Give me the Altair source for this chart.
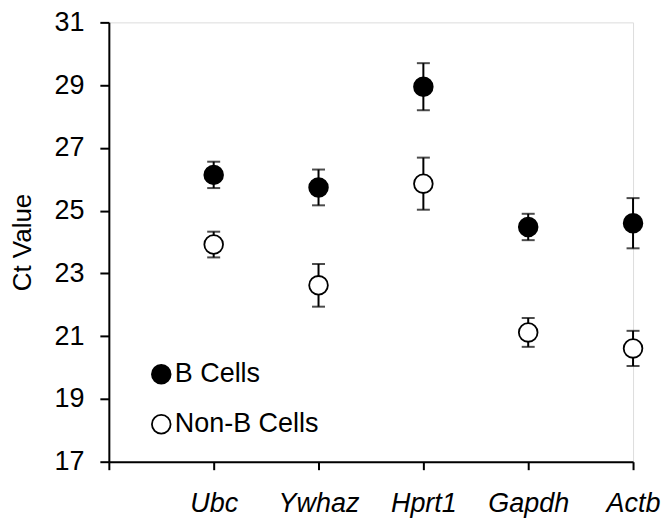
import altair as alt
import pandas as pd

genes = ["Ubc", "Ywhaz", "Hprt1", "Gapdh", "Actb"]
groups = ["B Cells", "Non-B Cells"]
b_values = [26.14, 25.74, 28.95, 24.48, 24.60]
b_errors = [0.42, 0.57, 0.75, 0.42, 0.80]
nonb_values = [23.92, 22.62, 25.86, 21.12, 20.61]
nonb_errors = [0.41, 0.68, 0.83, 0.46, 0.56]
y_ticks = [17, 19, 21, 23, 25, 27, 29, 31]

rows = []
for i, g in enumerate(genes):
    rows.append({"gene": g, "pos": i + 1, "group": groups[0], "value": b_values[i], "err": b_errors[i]})
    rows.append({"gene": g, "pos": i + 1, "group": groups[1], "value": nonb_values[i], "err": nonb_errors[i]})
df = pd.DataFrame(rows)
df["lo"] = df["value"] - df["err"]
df["hi"] = df["value"] + df["err"]

label_array = "[" + ",".join(["''"] + ["'" + g + "'" for g in genes]) + "]"
FONT = "Liberation Sans"

x_enc = alt.X(
    "pos:Q",
    scale=alt.Scale(domain=[0, len(genes)], nice=False, zero=False),
    axis=alt.Axis(
        values=list(range(len(genes) + 1)),
        labelExpr=label_array + "[datum.value]",
        title=None,
        grid=False,
        labelFontStyle="italic",
        labelFontSize=27,
        labelFont=FONT,
        labelColor="black",
        labelPadding=21,
        tickSize=8,
        tickColor="black",
        tickWidth=2,
        domainColor="black",
        domainWidth=2,
        labelFlush=False,
        labelOverlap=False,
    ),
)
y_scale = alt.Scale(domain=[17, 31], nice=False, zero=False)

base = alt.Chart(df)

rule = base.mark_rule(color="black", strokeWidth=2).encode(
    x=x_enc,
    y=alt.Y(
        "lo:Q",
        scale=y_scale,
        axis=alt.Axis(
            values=y_ticks,
            title="Ct Value",
            titleFont=FONT,
            titleFontSize=26,
            titleFontWeight="normal",
            titleColor="black",
            titlePadding=18,
            grid=False,
            labelFontSize=27,
            labelFont=FONT,
            labelColor="black",
            labelPadding=16,
            tickSize=9,
            tickColor="black",
            tickWidth=2,
            domainColor="black",
            domainWidth=2,
        ),
    ),
    y2="hi:Q",
)
cap_lo = base.mark_tick(color="black", thickness=2, size=13, orient="horizontal").encode(
    x="pos:Q", y=alt.Y("lo:Q", scale=y_scale)
)
cap_hi = base.mark_tick(color="black", thickness=2, size=13, orient="horizontal").encode(
    x="pos:Q", y=alt.Y("hi:Q", scale=y_scale)
)
points = base.mark_point(filled=True, size=350, stroke="black", strokeWidth=1.8, opacity=1, shape="circle").encode(
    x="pos:Q",
    y=alt.Y("value:Q", scale=y_scale),
    fill=alt.Fill(
        "group:N",
        scale=alt.Scale(domain=groups, range=["black", "white"]),
        legend=alt.Legend(
            title=None,
            orient="none",
            legendX=39,
            legendY=339,
            padding=0,
            symbolType="circle",
            symbolSize=350,
            symbolStrokeColor="black",
            symbolStrokeWidth=1.8,
            symbolOpacity=1,
            labelFont=FONT,
            labelFontSize=27,
            labelColor="black",
            labelOffset=0,
            rowPadding=22,
        ),
    ),
)

chart = (
    alt.layer(rule, cap_lo, cap_hi, points)
    .properties(
        width=525,
        height=440,
        autosize=alt.AutoSizeParams(type="none"),
        padding={"left": 101, "top": 14, "right": 30, "bottom": 62},
    )
    .configure_view(stroke=None)
    .configure(font=FONT)
)

chart.save("out.html", embed_options={"renderer": "svg", "actions": False})
